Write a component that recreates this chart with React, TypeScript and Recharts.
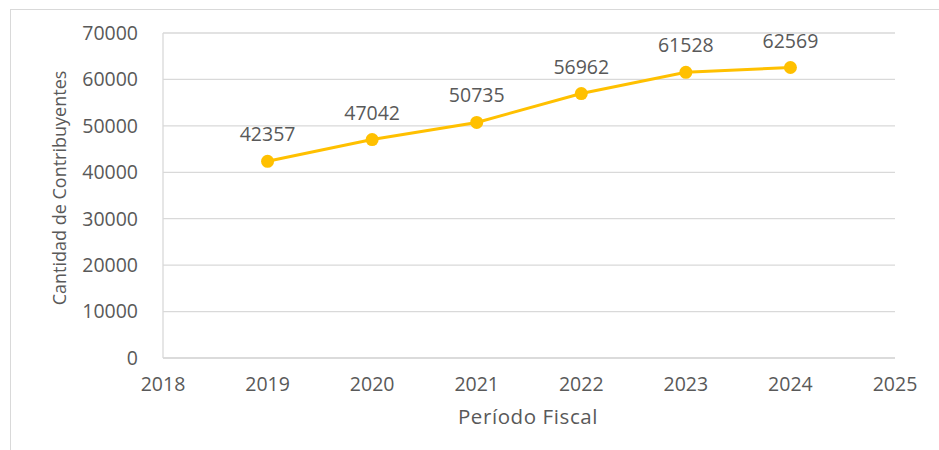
import React from 'react';
import { LineChart, Line, XAxis, YAxis, CartesianGrid, LabelList } from 'recharts';

const years = [2019, 2020, 2021, 2022, 2023, 2024];
const contribuyentes = [42357, 47042, 50735, 56962, 61528, 62569];
const xTicks = [2018, 2019, 2020, 2021, 2022, 2023, 2024, 2025];
const yTicks = [0, 10000, 20000, 30000, 40000, 50000, 60000, 70000];

const data = years.map((y, i) => ({ year: y, value: contribuyentes[i] }));

const FONT = '"Open Sans", sans-serif';
const TEXT = '#595959';
const GRID = '#D9D9D9';

export default function App() {
  return (
    <div style={{ position: 'absolute', left: 0, top: 0, width: 939, height: 450, overflow: 'hidden', background: '#fff' }}>
      <div style={{ position: 'absolute', left: 10, top: 9, width: 1000, height: 1000, border: `1px solid ${GRID}`, boxSizing: 'border-box' }} />
      <div style={{ position: 'absolute', left: 0, top: 0 }}>
        <LineChart width={939} height={450} data={data} margin={{ top: 33, right: 44, bottom: 0, left: 0 }}>
          <CartesianGrid vertical={false} stroke={GRID} strokeWidth={1.3} />
          <XAxis
            dataKey="year"
            type="number"
            domain={[2018, 2025]}
            ticks={xTicks}
            height={92}
            tickSize={0}
            tickMargin={19}
            tickLine={false}
            axisLine={{ stroke: GRID, strokeWidth: 1.3 }}
            tick={{ fill: TEXT, fontSize: 19.5, fontFamily: FONT }}
            label={{
              content: () => (
                <text
                  x={528}
                  y={424}
                  textAnchor="middle"
                  fill={TEXT}
                  fontSize={20.5}
                  letterSpacing={0.6}
                  fontFamily={FONT}
                >
                  Período Fiscal
                </text>
              ),
            }}
          />
          <YAxis
            type="number"
            domain={[0, 70000]}
            ticks={yTicks}
            width={163}
            tickSize={0}
            tickMargin={25}
            tickLine={false}
            axisLine={{ stroke: GRID, strokeWidth: 1.3 }}
            tick={{ fill: TEXT, fontSize: 19.5, fontFamily: FONT }}
            label={{
              content: () => (
                <text
                  x={59}
                  y={188}
                  transform="rotate(-90 59 188)"
                  textAnchor="middle"
                  dominantBaseline="central"
                  fill={TEXT}
                  fontSize={18}
                  fontFamily={FONT}
                >
                  Cantidad de Contribuyentes
                </text>
              ),
            }}
          />
          <Line
            type="linear"
            dataKey="value"
            stroke="#FFC000"
            strokeWidth={3}
            dot={{ r: 6.5, fill: '#FFC000', stroke: '#FFC000', strokeWidth: 0 }}
            isAnimationActive={false}
          >
            <LabelList dataKey="value" position="top" offset={20} fill={TEXT} fontSize={19.5} fontFamily={FONT} />
          </Line>
        </LineChart>
      </div>
    </div>
  );
}
